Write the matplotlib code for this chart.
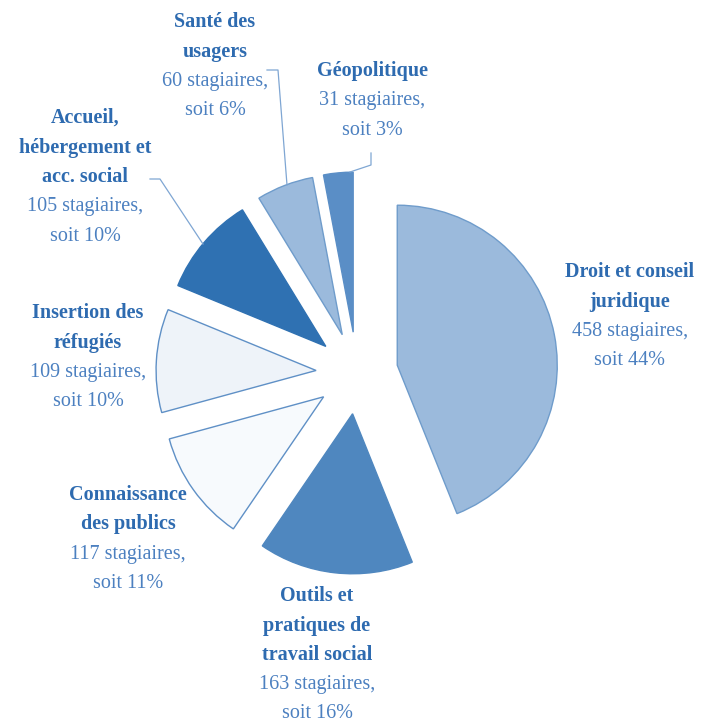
import matplotlib.pyplot as plt
import numpy as np

# data
categories = ["Droit et conseil juridique", "Outils et pratiques de travail social",
              "Connaissance des publics", "Insertion des réfugiés",
              "Accueil, hébergement et acc. social", "Santé des usagers", "Géopolitique"]
stagiaires = [458, 163, 117, 109, 105, 60, 31]
percents = [44, 16, 11, 10, 10, 6, 3]
title_lines = [["Droit et conseil", "juridique"],
               ["Outils et", "pratiques de", "travail social"],
               ["Connaissance", "des publics"],
               ["Insertion des", "réfugiés"],
               ["Accueil,", "hébergement et", "acc. social"],
               ["Santé des", "usagers"],
               ["Géopolitique"]]

colors = ["#9BBADC", "#4F87BF", "#F7FAFD", "#EEF3F9", "#2F71B2", "#9BBADC", "#5A8EC6"]
edges = ["#6F9CCB", "#4F87BF", "#5F90C6", "#5F90C6", "#2F71B2", "#6F9CCB", "#5A8EC6"]

W, H = 703, 725
fig = plt.figure(figsize=(W / 100, H / 100), dpi=100)
ax = fig.add_axes([0, 0, 1, 1])

cx, cy, r = 357, H - 373, 160
wedges, _ = ax.pie(stagiaires, explode=[41] * len(stagiaires), center=(cx, cy), radius=r,
                   startangle=90, counterclock=False, colors=colors, frame=True,
                   wedgeprops=dict(linewidth=1.0))
for w, ec in zip(wedges, edges):
    w.set_edgecolor(ec)
ax.set_xlim(0, W)
ax.set_ylim(0, H)
ax.set_aspect("equal")
ax.axis("off")

# label layout (x center, y of first line in pixels from top)
label_pos = [(630, 272), (317, 596), (128, 495), (88, 313), (85, 118), (215, 22), (372, 71)]
step = 29.5
title_col = "#2E6BB0"
value_col = "#4C80C0"
font = "Liberation Serif"
for (lx, ly), tl, n, p in zip(label_pos, title_lines, stagiaires, percents):
    lines = [(t, "bold", title_col) for t in tl]
    lines += [(f"{n} stagiaires,", "normal", value_col), (f"soit {p}%", "normal", value_col)]
    for i, (txt, wgt, col) in enumerate(lines):
        ax.text(lx, H - (ly + i * step), txt, ha="center", va="center", fontsize=14.5,
                fontweight=wgt, color=col, family=font)

# leader lines
leader_col = "#7FA6D3"
leaders = [
    [(267, 70), (278, 70), (287, 185)],        # Santé
    [(371, 153), (371, 165), (350, 172)],      # Géopolitique
    [(150, 179), (160, 179), (203, 244)],      # Accueil
]
for pts in leaders:
    xs = [p[0] for p in pts]
    ys = [H - p[1] for p in pts]
    ax.plot(xs, ys, color=leader_col, lw=0.9)

plt.savefig("out.png", dpi=100)
